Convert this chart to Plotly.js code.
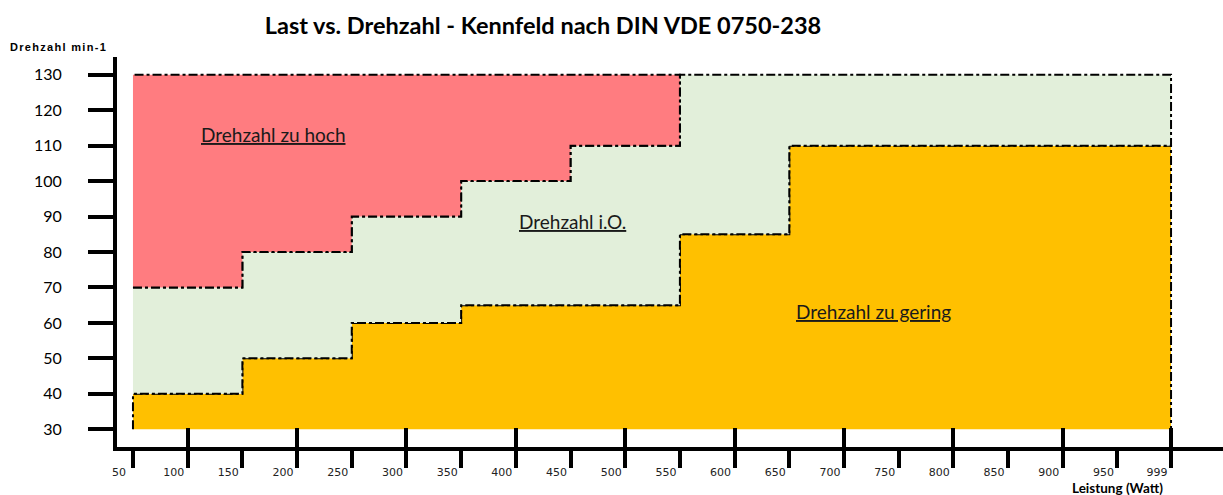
<!DOCTYPE html>
<html>
<head>
<meta charset="utf-8">
<script src="https://cdn.plot.ly/plotly-3.0.1.min.js"></script>
<style>html,body{margin:0;padding:0;background:#fff;}#chart{width:1223px;height:495px;}</style>
</head>
<body>
<div id="chart"></div>
<script>
// ---- data ----
var stepX = [50, 150, 250, 350, 450, 550, 650, 999];          // Leistung (Watt) step boundaries
var lowerLimit = [40, 50, 60, 65, 65, 85, 110];                // below: Drehzahl zu gering
var upperLimit = [70, 80, 90, 100, 110, 130, 130];             // above: Drehzahl zu hoch
var rpmMin = 30, rpmMax = 130;
var xTickVals = [50,100,150,200,250,300,350,400,450,500,550,600,650,700,750,800,850,900,950,999];
var xTickText = ['50','100','150','200','250','300','350','400','450','500','550','600','650','700','750','800','850','900','950','999'];
var xLongTicks = [100,200,300,400,500,600,700,800,900,999];
var yTickVals = [30,40,50,60,70,80,90,100,110,120,130];
var regionNames = ['Drehzahl zu gering', 'Drehzahl i.O.', 'Drehzahl zu hoch'];
var labelPos = [[654, 63.3], [401, 88.7], [110, 113.2]];

// step boundary (left to right)
function stepLine(vals) {
  var xs = [], ys = [];
  for (var i = 0; i < vals.length; i++) {
    xs.push(stepX[i], stepX[i + 1]);
    ys.push(vals[i], vals[i]);
  }
  return {x: xs, y: ys};
}
var low = stepLine(lowerLimit);
var up = stepLine(upperLimit);

// orange region
var orX = [stepX[0]].concat(low.x, [stepX[stepX.length - 1]]);
var orY = [rpmMin].concat(low.y, [rpmMin]);
// green region: between upper boundary and lower boundary
var grX = up.x.concat(low.x.slice().reverse());
var grY = up.y.concat(low.y.slice().reverse());
// red region: from upper boundary up to rpmMax (only where upper < max)
var rdX = [], rdY = [];
for (var i = 0; i < upperLimit.length; i++) {
  if (upperLimit[i] < rpmMax) { rdX.push(stepX[i], stepX[i + 1]); rdY.push(upperLimit[i], upperLimit[i]); }
}
var redEnd = rdX[rdX.length - 1];
rdX = rdX.concat([redEnd, stepX[0]]);
rdY = rdY.concat([rpmMax, rpmMax]);

function region(x, y, color) {
  return {
    x: x, y: y, type: 'scatter', mode: 'lines', fill: 'toself', fillcolor: color,
    line: {color: '#000000', width: 2, dash: 'dashdot'}, hoverinfo: 'skip', showlegend: false
  };
}
var traces = [
  region(orX, orY, '#FFC000'),
  region(grX, grY, '#E2EFDA'),
  region(rdX, rdY, '#FF7C80'),
  {x: [stepX[0]], y: [rpmMin], xaxis: 'x2', type: 'scatter', mode: 'markers', marker: {opacity: 0}, hoverinfo: 'skip', showlegend: false}
];

var xr = [35.4, 1046.5];
var layout = {
  width: 1223, height: 495,
  margin: {l: 117, r: 0, t: 57, b: 48},
  paper_bgcolor: '#ffffff', plot_bgcolor: '#ffffff',
  showlegend: false,
  title: {text: '<b>Last vs. Drehzahl - Kennfeld nach DIN VDE 0750-238</b>', x: 0.444, xanchor: 'center', y: 0.948, yanchor: 'middle',
          font: {family: 'Lato, sans-serif', size: 23.5, color: '#000'}},
  xaxis: {
    range: xr, showgrid: false, zeroline: false,
    showline: true, linewidth: 4, linecolor: '#000',
    tickmode: 'array', tickvals: xTickVals, ticktext: xTickText,
    ticks: 'outside', ticklen: 17, tickwidth: 4, tickcolor: '#000',
    ticklabelshift: -14, ticklabelstandoff: -5,
    tickfont: {family: 'DejaVu Sans, sans-serif', size: 11, color: '#222'}
  },
  xaxis2: {
    range: xr, overlaying: 'x', anchor: 'y', side: 'bottom', showgrid: false, zeroline: false,
    showline: false, tickmode: 'array', tickvals: xLongTicks, ticktext: xLongTicks.map(function(){return '';}),
    ticks: 'inside', ticklen: 19, tickwidth: 4, tickcolor: '#000', showticklabels: false
  },
  yaxis: {
    range: [25, 135], showgrid: false, zeroline: false,
    showline: true, linewidth: 4, linecolor: '#000',
    tickmode: 'array', tickvals: yTickVals,
    ticks: 'outside', ticklen: 25, tickwidth: 4, tickcolor: '#000',
    ticklabelstandoff: 23,
    tickfont: {family: 'Lato, sans-serif', size: 16, color: '#000'}
  },
  annotations: [
    {text: '<b><span style="letter-spacing:1.3px">Drehzahl min-1</span></b>', xref: 'paper', yref: 'paper', x: -0.099, y: 1.0256, xanchor: 'left', yanchor: 'middle', showarrow: false,
     font: {family: 'Liberation Sans, Arial, sans-serif', size: 11, color: '#000'}},
    {text: '<b>Leistung (Watt)</b>', xref: 'paper', yref: 'paper', x: 0.9476, y: -0.105, xanchor: 'right', yanchor: 'middle', showarrow: false,
     font: {family: 'Lato, sans-serif', size: 13.5, color: '#000'}}
  ]
};
for (var k = 0; k < regionNames.length; k++) {
  layout.annotations.push({
    text: '<u>' + regionNames[k] + '</u>', x: labelPos[k][0], y: labelPos[k][1], xref: 'x', yref: 'y',
    xanchor: 'left', yanchor: 'middle', showarrow: false,
    font: {family: 'Lato, sans-serif', size: 19, color: '#1a1a1a'}
  });
}
Plotly.newPlot('chart', traces, layout, {staticPlot: true, displayModeBar: false});
</script>
</body>
</html>
